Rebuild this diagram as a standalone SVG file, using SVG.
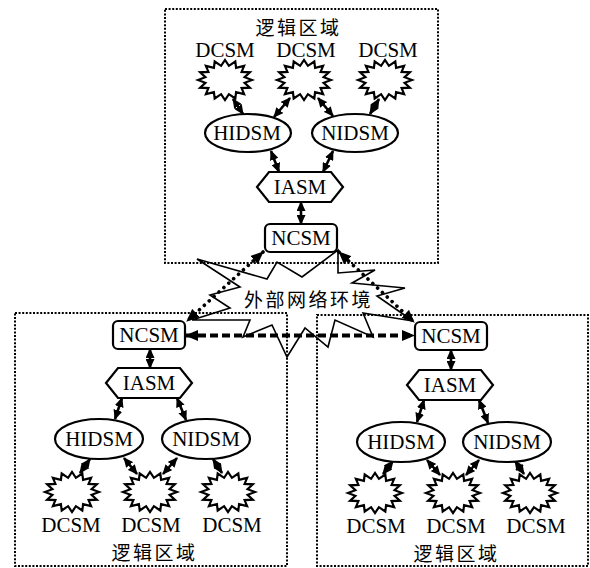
<svg xmlns="http://www.w3.org/2000/svg" xmlns:xlink="http://www.w3.org/1999/xlink" width="590" height="568" viewBox="0 0 590 568">
<style>
.area{fill:none;stroke:#000;stroke-width:2;stroke-dasharray:2 1.6}
.star{fill:#fff;stroke:#000;stroke-width:2.2;stroke-linejoin:miter}
.ell{fill:#fff;stroke:#000;stroke-width:2.2}
.hex{fill:#fff;stroke:#000;stroke-width:2.2}
.box{fill:#fff;stroke:#000;stroke-width:2.2}
.lbl{font-family:"Liberation Serif","Times New Roman",serif;font-size:21px;text-anchor:middle;fill:#000}
.zh{font-family:"Liberation Serif","Noto Sans CJK SC",serif;font-size:19px;letter-spacing:2.5px;text-anchor:middle;fill:#000}
.arr{stroke:#000;stroke-width:2.6;fill:none;marker-start:url(#ah);marker-end:url(#ah)}
.dot{stroke:#000;stroke-width:3.6;fill:none;stroke-linecap:round;stroke-dasharray:0.1 6.5;marker-start:url(#bh);marker-end:url(#bh)}
.dash{stroke:#000;stroke-width:4;fill:none;stroke-dasharray:8 4;marker-start:url(#bh);marker-end:url(#bh)}
.cloud{fill:none;stroke:#000;stroke-width:1.6;stroke-linejoin:miter}
</style>
<defs>
<marker id="ah" markerUnits="userSpaceOnUse" markerWidth="10" markerHeight="9" refX="9" refY="4.5" orient="auto-start-reverse"><path d="M0,0 L10,4.5 L0,9 z" fill="#000"/></marker>
<marker id="bh" markerUnits="userSpaceOnUse" markerWidth="13" markerHeight="11" refX="12" refY="5.5" orient="auto-start-reverse"><path d="M0,0 L13,5.5 L0,11 z" fill="#000"/></marker>
<path id="starShape" class="star" d="M27,0 L19.6,2.8 L24.9,7.7 L16.6,8.1 L19.1,14.1 L11.1,12.1 L10.3,18.5 L3.9,14.2 L0,20 L-3.9,14.2 L-10.3,18.5 L-11.1,12.1 L-19.1,14.1 L-16.6,8.1 L-24.9,7.7 L-19.6,2.8 L-27,0 L-19.6,-2.8 L-24.9,-7.7 L-16.6,-8.1 L-19.1,-14.1 L-11.1,-12.1 L-10.3,-18.5 L-3.9,-14.2 L0,-20 L3.9,-14.2 L10.3,-18.5 L11.1,-12.1 L19.1,-14.1 L16.6,-8.1 L24.9,-7.7 L19.6,-2.8 Z"/>
</defs>

<g id="areas">
<rect class="area" x="165" y="9" width="273" height="254"/>
<rect class="area" x="15" y="313" width="272" height="253"/>
<rect class="area" x="317" y="315" width="271" height="251"/>
<text class="zh" x="298.5" y="35">逻辑区域</text>
<text class="zh" x="154.5" y="560">逻辑区域</text>
<text class="zh" x="456.5" y="561">逻辑区域</text>
</g>

<g id="external-network">
<polygon class="cloud" points="197,259 267,279 277,262 302,277 338,250 338,273 375,270 352,283 405,288 377,296 413,321 363,313 373,337 335,320 328,347 305,328 287,357 272,325 243,337 250,320 192,320 230,308 210,295 240,287"/>
<text class="zh" x="308.5" y="307">外部网络环境</text>
</g>

<g id="connectors">
<!-- top area -->
<line class="arr" x1="233" y1="99" x2="243" y2="114"/>
<line class="arr" x1="290" y1="98" x2="274" y2="117"/>
<line class="arr" x1="318" y1="98" x2="333" y2="116"/>
<line class="arr" x1="379" y1="99" x2="370" y2="114"/>
<line class="arr" x1="271" y1="151" x2="279" y2="172"/>
<line class="arr" x1="333" y1="151" x2="323" y2="172"/>
<line class="arr" x1="301" y1="202" x2="301" y2="224"/>
<!-- left area -->
<line class="arr" x1="150" y1="349" x2="150" y2="368"/>
<line class="arr" x1="122" y1="398" x2="115" y2="419"/>
<line class="arr" x1="177" y1="398" x2="186" y2="420"/>
<line class="arr" x1="80" y1="473" x2="90" y2="459"/>
<line class="arr" x1="137" y1="474" x2="124" y2="458"/>
<line class="arr" x1="163" y1="474" x2="177" y2="458"/>
<line class="arr" x1="222" y1="473" x2="213" y2="459"/>
<!-- right area -->
<line class="arr" x1="451" y1="350" x2="451" y2="370"/>
<line class="arr" x1="424" y1="400" x2="417" y2="422"/>
<line class="arr" x1="479" y1="400" x2="488" y2="423"/>
<line class="arr" x1="383" y1="474" x2="393" y2="461"/>
<line class="arr" x1="440" y1="475" x2="427" y2="460"/>
<line class="arr" x1="466" y1="475" x2="479" y2="460"/>
<line class="arr" x1="524" y1="474" x2="515" y2="461"/>
<!-- inter-area -->
<line class="dot" x1="263" y1="252" x2="187" y2="321"/>
<line class="dot" x1="339" y1="252" x2="414" y2="322"/>
<line class="dash" x1="186" y1="335.5" x2="414" y2="335.5"/>
</g>

<!-- top area nodes -->
<g id="dcsm-t1"><use href="#starShape" x="225" y="80"/><text class="lbl" x="225" y="57">DCSM</text></g>
<g id="dcsm-t2"><use href="#starShape" x="304" y="80"/><text class="lbl" x="306" y="57">DCSM</text></g>
<g id="dcsm-t3"><use href="#starShape" x="385" y="80"/><text class="lbl" x="388" y="57">DCSM</text></g>
<g id="hidsm-t"><ellipse class="ell" cx="248" cy="133" rx="43" ry="19"/><text class="lbl" x="247" y="140">HIDSM</text></g>
<g id="nidsm-t"><ellipse class="ell" cx="355" cy="133" rx="43" ry="19"/><text class="lbl" x="355" y="140">NIDSM</text></g>
<g id="iasm-t"><polygon class="hex" points="257,187 269,172 331,172 343,187 331,202 269,202"/><text class="lbl" x="300" y="194">IASM</text></g>
<g id="ncsm-t"><rect class="box" x="265" y="224" width="72" height="28" rx="5"/><text class="lbl" x="301" y="245">NCSM</text></g>

<!-- left area nodes -->
<g id="ncsm-l"><rect class="box" x="113" y="321" width="72" height="28" rx="5"/><text class="lbl" x="149" y="342">NCSM</text></g>
<g id="iasm-l"><polygon class="hex" points="106,383 118,368 180,368 192,383 180,398 118,398"/><text class="lbl" x="149" y="390">IASM</text></g>
<g id="hidsm-l"><ellipse class="ell" cx="99" cy="439" rx="44" ry="20"/><text class="lbl" x="99" y="446">HIDSM</text></g>
<g id="nidsm-l"><ellipse class="ell" cx="206" cy="439" rx="44" ry="20"/><text class="lbl" x="206" y="446">NIDSM</text></g>
<g id="dcsm-l1"><use href="#starShape" x="72" y="492"/><text class="lbl" x="71" y="532">DCSM</text></g>
<g id="dcsm-l2"><use href="#starShape" x="150" y="492"/><text class="lbl" x="151" y="532">DCSM</text></g>
<g id="dcsm-l3"><use href="#starShape" x="228" y="492"/><text class="lbl" x="232" y="532">DCSM</text></g>

<!-- right area nodes -->
<g id="ncsm-r"><rect class="box" x="415" y="322" width="72" height="28" rx="5"/><text class="lbl" x="451" y="343">NCSM</text></g>
<g id="iasm-r"><polygon class="hex" points="407,385 419,370 481,370 493,385 481,400 419,400"/><text class="lbl" x="450" y="392">IASM</text></g>
<g id="hidsm-r"><ellipse class="ell" cx="401" cy="442" rx="44" ry="20"/><text class="lbl" x="401" y="449">HIDSM</text></g>
<g id="nidsm-r"><ellipse class="ell" cx="507" cy="442" rx="44" ry="20"/><text class="lbl" x="507" y="449">NIDSM</text></g>
<g id="dcsm-r1"><use href="#starShape" x="375" y="493"/><text class="lbl" x="376" y="533">DCSM</text></g>
<g id="dcsm-r2"><use href="#starShape" x="453" y="493"/><text class="lbl" x="456" y="533">DCSM</text></g>
<g id="dcsm-r3"><use href="#starShape" x="530" y="493"/><text class="lbl" x="536" y="533">DCSM</text></g>
</svg>
